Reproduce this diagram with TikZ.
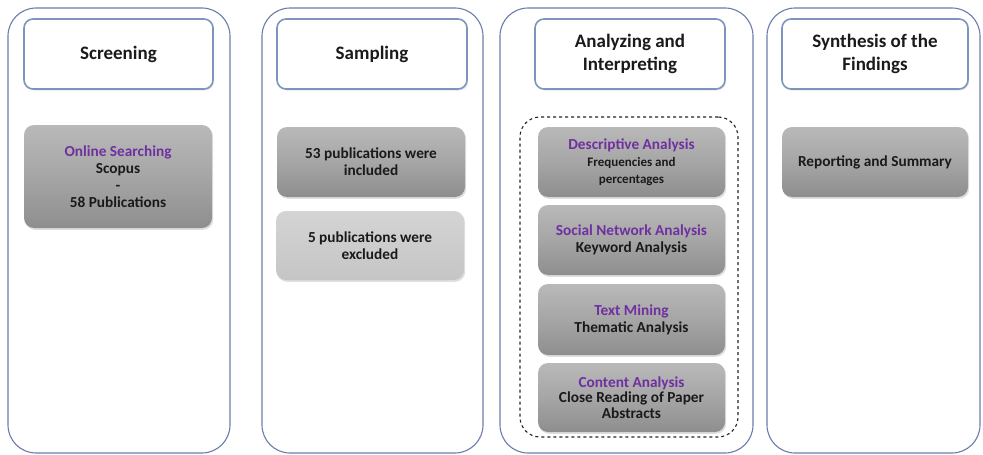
\documentclass[tikz,border=0pt]{standalone}
\usepackage{fontspec}
\setmainfont{Carlito}
\usetikzlibrary{shadows}
\definecolor{frame}{HTML}{6A7DAA}
\definecolor{hdr}{HTML}{7D95BE}
\definecolor{purp}{HTML}{7030A0}
\definecolor{boxtop}{HTML}{B9B9B9}
\definecolor{boxbot}{HTML}{8E8E8E}
\definecolor{lighttop}{HTML}{D4D4D4}
\definecolor{lightbot}{HTML}{C5C5C5}
\definecolor{txt}{HTML}{1A1A1A}
\tikzset{
  column/.style={draw=frame, line width=1.1pt, rounded corners=28pt, inner sep=0pt},
  header/.style={draw=hdr, line width=1.6pt, fill=white, rounded corners=9pt,
    minimum height=70pt, align=center, text=txt, inner sep=0pt,
    font=\bfseries\fontsize{19}{22.5}\selectfont,
    drop shadow={opacity=0.18, shadow xshift=1.2pt, shadow yshift=-1.5pt}},
  graybox/.style={rounded corners=10pt, top color=boxtop, bottom color=boxbot,
    middle color=boxtop!55!boxbot, minimum height=70pt, align=center, text=txt, inner sep=0pt,
    font=\bfseries\fontsize{15.3}{17}\selectfont,
    drop shadow={opacity=0.25, shadow xshift=1.2pt, shadow yshift=-1.8pt}},
  lightbox/.style={graybox, top color=lighttop, bottom color=lightbot, middle color=lighttop!50!lightbot},
  dashframe/.style={draw=black!85, dashed, line width=1.1pt, rounded corners=20pt, inner sep=0pt},
}
\newcommand{\pur}[1]{\textcolor{purp}{#1}}
\newcommand{\smalltxt}[1]{{\fontsize{13}{15.5}\selectfont #1}}
\begin{document}
\begin{tikzpicture}[x=1pt,y=-1pt]
\useasboundingbox[fill=white] (0,0) rectangle (983,455);
% columns
\node[column, minimum width=222pt, minimum height=445pt] (c1) at (119,230.5) {};
\node[column, minimum width=221pt, minimum height=445pt] (c2) at (372.5,230.5) {};
\node[column, minimum width=253pt, minimum height=445pt] (c3) at (626.5,230.5) {};
\node[column, minimum width=213pt, minimum height=445pt] (c4) at (873.5,230.5) {};
% headers
\node[header, minimum width=189pt] (h1) at (118.5,54) {Screening};
\node[header, minimum width=190pt] (h2) at (372,54) {Sampling};
\node[header, minimum width=190pt] (h3) at (630,54) {Analyzing and\\Interpreting};
\node[header, minimum width=186pt] (h4) at (875,54) {Synthesis of the\\Findings};
% column 1
\node[graybox, minimum width=188pt, minimum height=103pt] (b1) at (118,176.5)
  {\pur{Online Searching}\\Scopus\\-\\58 Publications};
% column 2
\node[graybox, minimum width=188pt] (s1) at (371,162) {53 publications were\\included};
\node[lightbox, minimum width=188pt, minimum height=69pt] (s2) at (370,245.5) {5 publications were\\excluded};
% column 3
\node[dashframe, minimum width=218pt, minimum height=320pt] (dash) at (629,277) {};
\node[graybox, minimum width=187pt] (a1) at (631.5,162)
  {\pur{Descriptive Analysis}\\\smalltxt{Frequencies and}\\\smalltxt{percentages}};
\node[graybox, minimum width=187pt] (a2) at (631.5,240)
  {\pur{Social Network Analysis}\\Keyword Analysis};
\node[graybox, minimum width=187pt, minimum height=71pt] (a3) at (631.5,319.5)
  {\pur{Text Mining}\\Thematic Analysis};
\node[graybox, minimum width=187pt, minimum height=69pt, font=\bfseries\fontsize{15.3}{15.5}\selectfont] (a4) at (631.5,397.5)
  {\pur{Content Analysis}\\Close Reading of Paper\\Abstracts};
% column 4
\node[graybox, minimum width=186pt] (r1) at (875,162) {Reporting and Summary};
\end{tikzpicture}
\end{document}
